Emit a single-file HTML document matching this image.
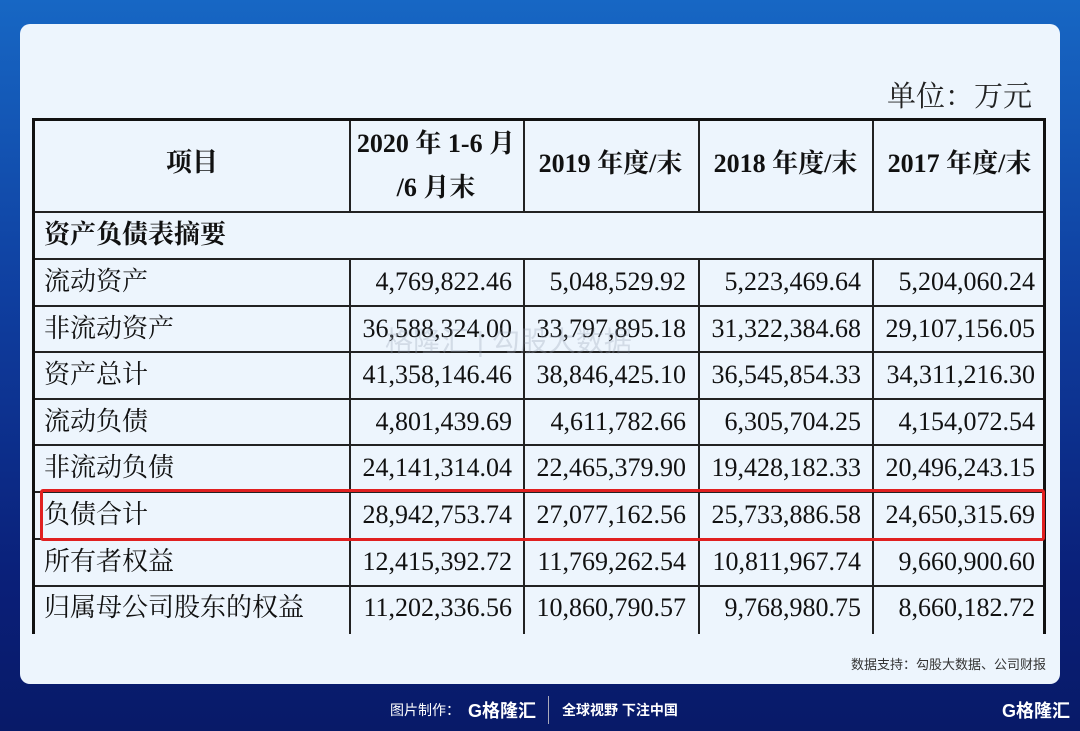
<!DOCTYPE html>
<html><head><meta charset="utf-8">
<style>
html,body{margin:0;padding:0;}
body{width:1080px;height:731px;position:relative;overflow:hidden;
background:linear-gradient(180deg,#1767c4 0%,#0f3fa0 40%,#0a1f78 80%,#081a68 100%);
font-family:"Liberation Serif","Noto Serif CJK SC",serif;}
.card{position:absolute;left:20px;top:24px;width:1040px;height:660px;background:#edf5fd;border-radius:10px;}
.unit{position:absolute;right:48px;top:74px;font-size:29px;color:#222;}
.tbl{position:absolute;left:32px;top:118px;width:1014px;height:516px;border:3px solid #111;border-bottom:none;box-sizing:border-box;}
.vl{position:absolute;width:2px;background:#222;}
.hl{position:absolute;left:0;right:0;height:2px;background:#222;}
.c{position:absolute;font-size:26px;color:#111;white-space:nowrap;line-height:46px;}
.n{text-align:right;}
.h{font-weight:bold;text-align:center;}
.red{position:absolute;left:40px;top:489px;width:1005px;height:52px;border:3px solid #e02020;border-radius:3px;box-sizing:border-box;}
.src{position:absolute;right:34px;top:654px;font-family:"Liberation Sans","Noto Sans CJK SC",sans-serif;font-size:13px;color:#333;}
.foot{position:absolute;top:700px;font-family:"Liberation Sans","Noto Sans CJK SC",sans-serif;font-size:14px;color:#fff;font-weight:bold;}
.wm{position:absolute;left:385px;top:320px;font-family:"Liberation Sans","Noto Sans CJK SC",sans-serif;font-size:28px;color:rgba(150,160,180,0.3);}
</style></head><body>
<div class="card"></div>
<div class="unit">单位：万元</div>
<div class="tbl">
  <div class="vl" style="left:314px;top:0;height:91px"></div>
  <div class="vl" style="left:488px;top:0;height:91px"></div>
  <div class="vl" style="left:663px;top:0;height:91px"></div>
  <div class="vl" style="left:837px;top:0;height:91px"></div>
  <div class="vl" style="left:314px;top:137px;bottom:0"></div>
  <div class="vl" style="left:488px;top:137px;bottom:0"></div>
  <div class="vl" style="left:663px;top:137px;bottom:0"></div>
  <div class="vl" style="left:837px;top:137px;bottom:0"></div>
  <div class="hl" style="top:90px"></div>
  <div class="hl" style="top:137px"></div>
  <div class="hl" style="top:184px"></div>
  <div class="hl" style="top:230px"></div>
  <div class="hl" style="top:277px"></div>
  <div class="hl" style="top:323px"></div>
  <div class="hl" style="top:370px"></div>
  <div class="hl" style="top:417px"></div>
  <div class="hl" style="top:464px"></div>
</div>
<div id="cells"></div>
<div class="wm">格隆汇 | 勾股大数据</div>
<div class="red"></div>
<div class="src">数据支持：勾股大数据、公司财报</div>
<div class="foot" style="left:390px;font-weight:normal">图片制作：</div>
<div class="foot" style="left:468px;font-size:18px;top:697px">G格隆汇</div>
<div style="position:absolute;left:548px;top:696px;width:1px;height:28px;background:#aab"></div>
<div class="foot" style="left:562px">全球视野 下注中国</div>
<div class="foot" style="left:1002px;font-size:18px;top:697px">G格隆汇</div>
<script>
const rowLabels=["流动资产","非流动资产","资产总计","流动负债","非流动负债","负债合计","所有者权益","归属母公司股东的权益"];
const v2020=["4,769,822.46","36,588,324.00","41,358,146.46","4,801,439.69","24,141,314.04","28,942,753.74","12,415,392.72","11,202,336.56"];
const v2019=["5,048,529.92","33,797,895.18","38,846,425.10","4,611,782.66","22,465,379.90","27,077,162.56","11,769,262.54","10,860,790.57"];
const v2018=["5,223,469.64","31,322,384.68","36,545,854.33","6,305,704.25","19,428,182.33","25,733,886.58","10,811,967.74","9,768,980.75"];
const v2017=["5,204,060.24","29,107,156.05","34,311,216.30","4,154,072.54","20,496,243.15","24,650,315.69","9,660,900.60","8,660,182.72"];
const host=document.getElementById('cells');
function add(txt,cls,left,top,width,style){
  const d=document.createElement('div');
  d.className='c '+cls;d.textContent=txt;
  d.style.left=left+'px';d.style.top=top+'px';
  if(width)d.style.width=width+'px';
  if(style)d.setAttribute('style',d.getAttribute('style')+style);
  host.appendChild(d);return d;
}
let e;
e=add('项目','h',35,140,314);


e=add('2020 年 1-6 月','h',349,122,174,'line-height:44px;');


e=add('/6 月末','h',349,166,174,'line-height:44px;');


const hdrs=['2019 年度/末','2018 年度/末','2017 年度/末'],hx=[523,698,872];
for(let i=0;i<3;i++){e=add(hdrs[i],'h',hx[i],141,175);

}
e=add('资产负债表摘要','',44,212,null,'font-weight:bold;');


const cols=[v2020,v2019,v2018,v2017],rx=[349,523,698,872];
for(let r=0;r<rowLabels.length;r++){
  const y=259+r*46.6;
  e=add(rowLabels[r],'',44,y);
  
  
  for(let c=0;c<4;c++){
    e=add(cols[c][r],'n',rx[c],y,163);
    
    
  }
}
</script>
</body></html>
